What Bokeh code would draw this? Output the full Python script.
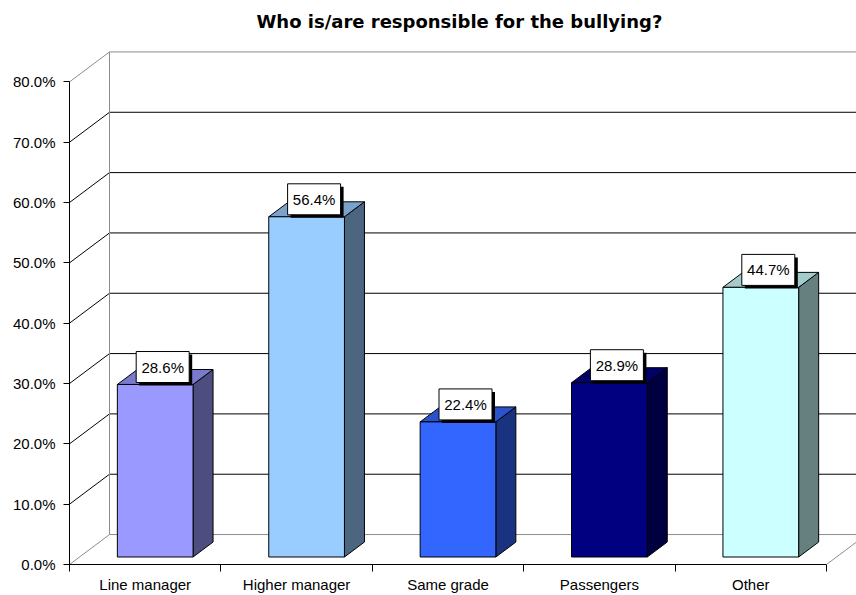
from bokeh.plotting import figure
from bokeh.models import Range1d, FixedTicker, NumeralTickFormatter, ColumnDataSource
from bokeh.embed import file_html
from bokeh.resources import INLINE
from bokeh.core.properties import value

# ---------------- data ----------------
categories = ["Line manager", "Higher manager", "Same grade", "Passengers", "Other"]
shares = [0.286, 0.564, 0.224, 0.289, 0.447]
y_ticks = [0.0, 0.1, 0.2, 0.3, 0.4, 0.5, 0.6, 0.7, 0.8]
title_text = "Who is/are responsible for the bullying?"

# ---------------- style ----------------
front_colors = ["#9999FF", "#99CCFF", "#3366FF", "#000080", "#CCFFFF"]
top_colors = ["#7A7ACC", "#7AA3CC", "#2952CC", "#000066", "#A3CCCC"]
side_colors = ["#4D4D80", "#4D6680", "#1A3380", "#000040", "#668080"]

PX_X = 151.4          # pixels per category
PX_Y = 604.4          # pixels per 100 %
DX = 40 / PX_X        # 3-D depth, horizontal
DY = 30 / PX_Y        # 3-D depth, vertical
W, H = 856, 595
ML, MT, MB = 69, 36, 30
XEND = (W - ML) / PX_X
YEND = (H - MT - MB) / PX_Y
YMAX = y_ticks[-1]
NCAT = len(categories)
LBL = value("Liberation Sans")

p = figure(width=W, height=H, x_range=Range1d(0, XEND), y_range=Range1d(0, YEND),
           output_backend="svg", toolbar_location=None,
           min_border_left=ML, min_border_right=0, min_border_top=MT, min_border_bottom=MB,
           background_fill_color="white", border_fill_color="white", outline_line_color=None)
p.xgrid.grid_line_color = None
p.ygrid.grid_line_color = None

p.title.text = title_text
p.title.align = "left"
p.title.offset = 187
p.title.text_font = "DejaVu Sans"
p.title.text_font_style = "bold"
p.title.text_font_size = "18px"
p.title.text_color = "black"
p.title.standoff = 10

# ---------------- walls ----------------
p.patch([0, 0, DX, DX], [0, YMAX, YMAX + DY, DY], fill_color="white", line_color=None)
inner = y_ticks[1:-1]
p.segment(x0=[DX] * len(inner), y0=[v + DY for v in inner], x1=[XEND] * len(inner),
          y1=[v + DY for v in inner], line_color="black", line_width=1)
p.segment(x0=[0] * len(inner), y0=inner, x1=[DX] * len(inner), y1=[v + DY for v in inner],
          line_color="black", line_width=1)
gx = [[DX, XEND], [DX, DX], [0, DX], [0, DX], [DX, XEND], [NCAT, NCAT + DX]]
gy = [[YMAX + DY, YMAX + DY], [DY, YMAX + DY], [YMAX, YMAX + DY], [0, DY], [DY, DY], [0, DY]]
p.multi_line(gx, gy, line_color="#8C8C8C", line_width=1)

# ---------------- bars ----------------
xl = [i + 0.25 + 0.25 * DX for i in range(NCAT)]
xr = [x + 0.5 for x in xl]
yb = 0.25 * DY
yt = [v + 0.25 * DY for v in shares]

side_xs = [[r, r + 0.5 * DX, r + 0.5 * DX, r] for r in xr]
side_ys = [[yb, yb + 0.5 * DY, t + 0.5 * DY, t] for t in yt]
top_xs = [[l, r, r + 0.5 * DX, l + 0.5 * DX] for l, r in zip(xl, xr)]
top_ys = [[t, t, t + 0.5 * DY, t + 0.5 * DY] for t in yt]

p.patches(side_xs, side_ys, fill_color=side_colors, line_color="black", line_width=1)
p.patches(top_xs, top_ys, fill_color=top_colors, line_color="black", line_width=1)
p.quad(left=xl, right=xr, bottom=[yb] * NCAT, top=yt, fill_color=front_colors,
       line_color="black", line_width=1)

# ---------------- value labels ----------------
cx = [i + 0.5 + 0.5 * DX - 2.5 / PX_X for i in range(NCAT)]
cy = [v + 0.5 * DY + 10 / PX_Y for v in shares]
lbl = ColumnDataSource(dict(x=cx, y=cy, sx=[x + 3 / PX_X for x in cx], sy=[y - 3 / PX_Y for y in cy],
                            t=["%.1f%%" % (v * 100) for v in shares]))
p.rect(x="sx", y="sy", width=53, height=31, width_units="screen", height_units="screen",
       fill_color="black", line_color=None, source=lbl)
p.rect(x="x", y="y", width=53, height=31, width_units="screen", height_units="screen",
       fill_color="white", line_color="black", line_width=1, source=lbl)
p.text(x="x", y="y", text="t", text_align="center", text_baseline="middle",
       text_font=LBL, text_font_size="15px", text_color="black", source=lbl)

# ---------------- axes ----------------
ya = p.yaxis[0]
ya.ticker = FixedTicker(ticks=y_ticks)
ya.formatter = NumeralTickFormatter(format="0.0%")
ya.bounds = (0, YMAX)
ya.major_tick_out = 6
ya.major_tick_in = 0
ya.minor_tick_out = 0
ya.minor_tick_in = 0
ya.axis_line_color = "black"
ya.major_tick_line_color = "black"
ya.major_label_text_font = "Liberation Sans"
ya.major_label_text_font_size = "15px"
ya.major_label_text_color = "black"
ya.major_label_standoff = 8

xa = p.xaxis[0]
centers = [i + 0.5 for i in range(NCAT)]
xa.ticker = FixedTicker(ticks=centers, minor_ticks=list(range(NCAT + 1)))
xa.major_label_overrides = {c: name for c, name in zip(centers, categories)}
xa.bounds = (0, NCAT)
xa.major_tick_out = 0
xa.major_tick_in = 0
xa.minor_tick_out = 7
xa.minor_tick_in = 0
xa.minor_tick_line_color = "black"
xa.axis_line_color = "black"
xa.major_label_text_font = "Liberation Sans"
xa.major_label_text_font_size = "15px"
xa.major_label_text_color = "black"
xa.major_label_standoff = 4

open("out.html", "w").write(file_html(p, INLINE))
